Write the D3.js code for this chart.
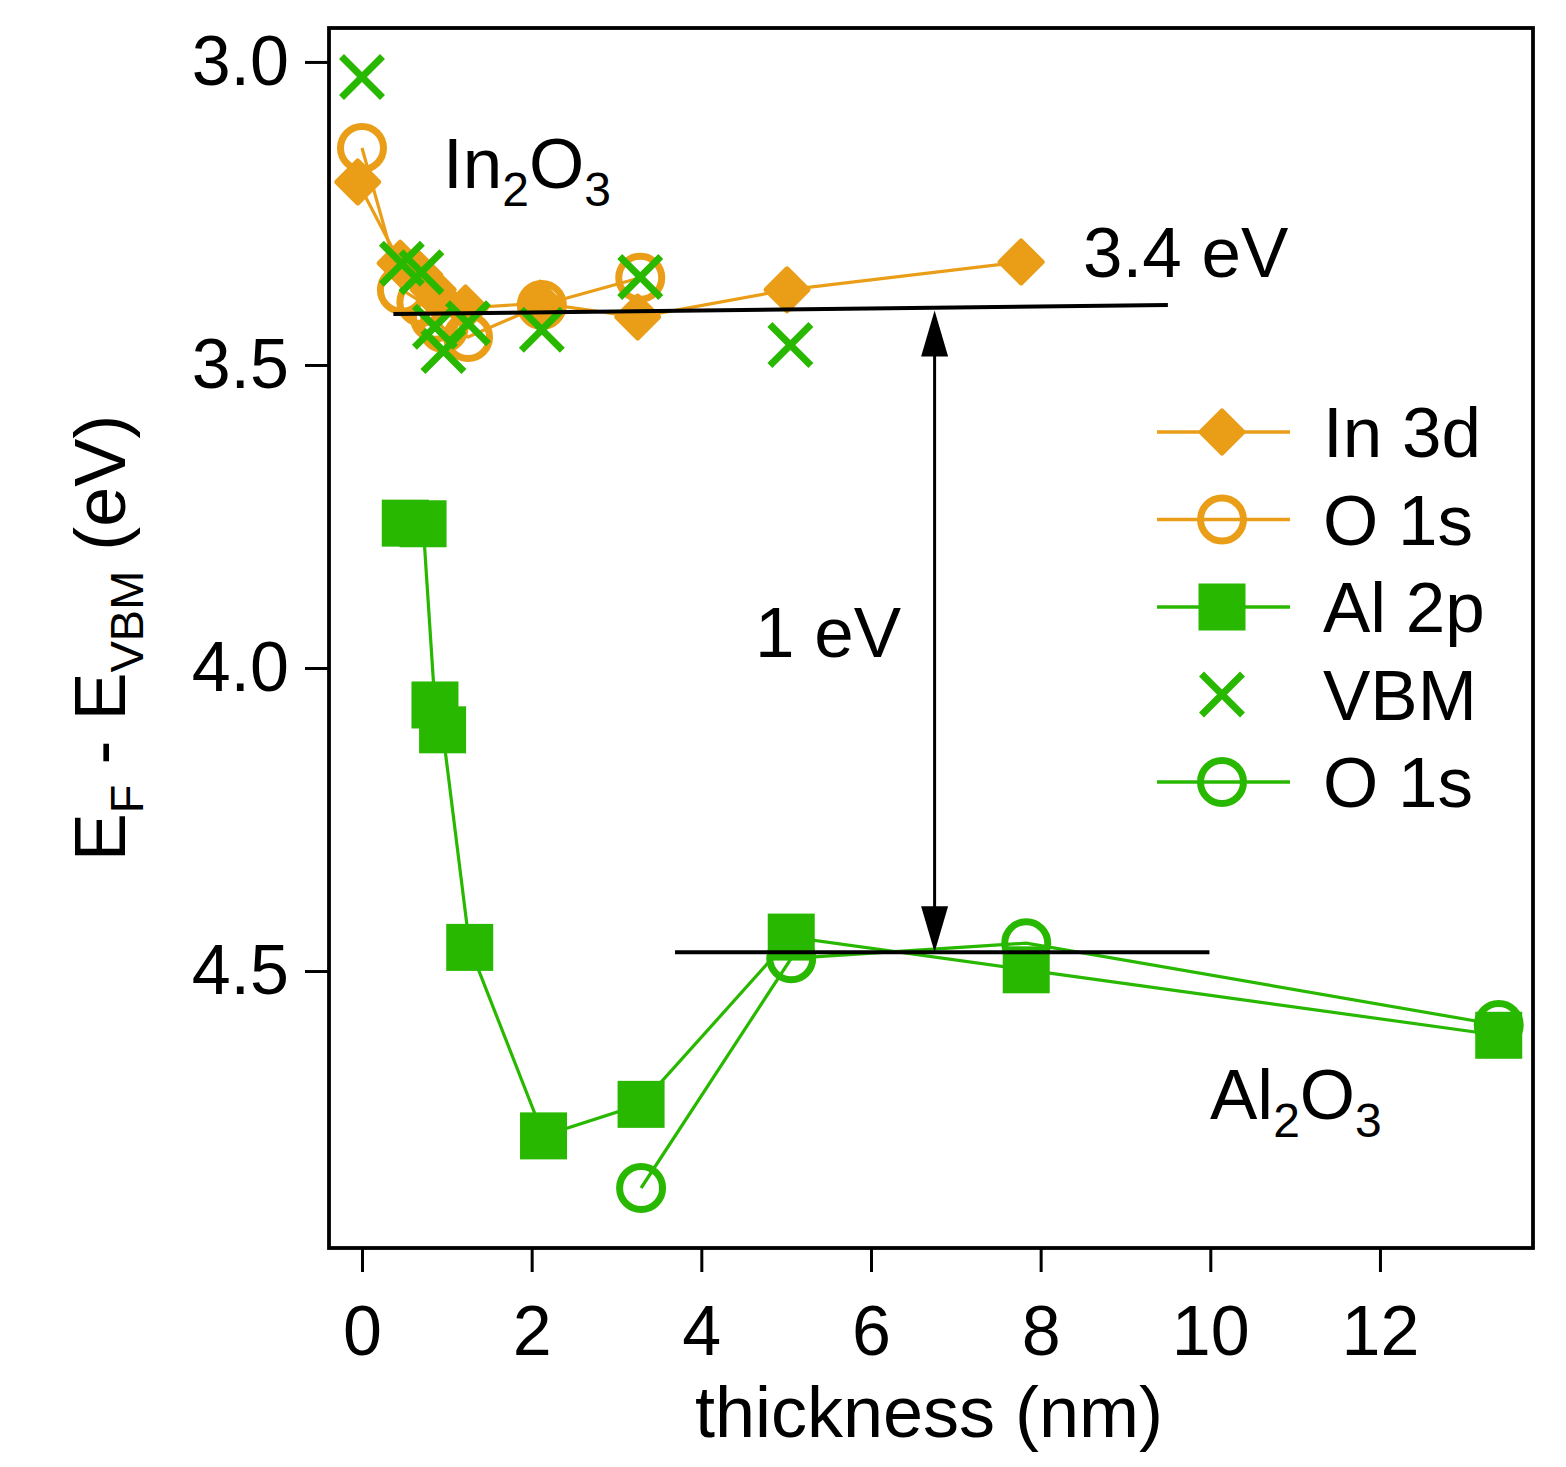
<!DOCTYPE html>
<html>
<head>
<meta charset="utf-8">
<script src="https://cdn.jsdelivr.net/npm/d3@7"></script>
<style>
  body { margin: 0; background: #fff; }
  text { font-family: "Liberation Sans", Arial, sans-serif; fill: #000; }
</style>
</head>
<body>
<div id="chart"></div>
<script>
// thickness (nm) and E_F - E_VBM (eV)
var thickIn3d = [-0.05, 0.45, 0.68, 0.84, 0.92, 1.22, 2.10, 3.25, 5.01, 7.77];
var in3d      = [3.198, 3.332, 3.351, 3.376, 3.393, 3.406, 3.398, 3.421, 3.376, 3.330];
var thickO1sIn = [0, 0.47, 0.70, 0.86, 0.96, 1.25, 2.12, 3.28];
var o1sIn      = [3.142, 3.376, 3.396, 3.422, 3.439, 3.454, 3.401, 3.356];
var thickAl2p = [0.51, 0.72, 0.86, 0.95, 1.27, 2.14, 3.29, 5.06, 7.83, 13.40];
var al2p      = [3.761, 3.762, 4.061, 4.102, 4.461, 4.772, 4.720, 4.444, 4.498, 4.606];
var thickVbm = [0, 0.47, 0.70, 0.86, 0.96, 1.25, 2.12, 3.28, 5.05];
var vbm      = [3.025, 3.333, 3.347, 3.437, 3.477, 3.431, 3.442, 3.355, 3.467];
var thickO1sAl = [3.29, 5.06, 7.83, 13.40];
var o1sAl      = [4.858, 4.479, 4.454, 4.589];

var xTicks = [0, 2, 4, 6, 8, 10, 12];
var yTicks = [3.0, 3.5, 4.0, 4.5];

// guide lines: In2O3 level, Al2O3 level, 1 eV arrow
var in2o3Level = [[0.37, 3.416], [9.50, 3.401]];
var al2o3Level = [[3.69, 4.469], [9.99, 4.469]];
var arrowX = 6.75;

var orange = '#EA9D16';
var green = '#29B800';

var width = 1566, height = 1467;
var frame = { left: 329, right: 1533, top: 28, bottom: 1248 };

var x = d3.scaleLinear()
    .domain([-0.389, 13.804])
    .range([frame.left, frame.right]);
var y = d3.scaleLinear()
    .domain([2.944, 4.957])
    .range([frame.top, frame.bottom]);

var svg = d3.select('#chart')
    .append('svg')
    .attr('width', width)
    .attr('height', height);

svg.append('rect').attr('width', width).attr('height', height).attr('fill', '#fff');

// axes
var yAxis = g => g
    .attr('transform', `translate(${frame.left},0)`)
    .call(d3.axisLeft(y).tickValues(yTicks).tickFormat(d3.format('.1f')).tickSize(24).tickPadding(16))
    .call(g => g.select('.domain').remove());
var xAxis = g => g
    .attr('transform', `translate(0,${frame.bottom})`)
    .call(d3.axisBottom(x).tickValues(xTicks).tickFormat(d3.format('d')).tickSize(24).tickPadding(33))
    .call(g => g.select('.domain').remove());

svg.append('g').call(yAxis);
svg.append('g').call(xAxis);
svg.selectAll('.tick line').attr('stroke', '#000').attr('stroke-width', 3);
svg.selectAll('.tick text')
    .attr('font-size', 70)
    .attr('font-family', '"Liberation Sans", Arial, sans-serif')
    .attr('fill', '#000');

// frame
svg.append('rect')
    .attr('x', frame.left).attr('y', frame.top)
    .attr('width', frame.right - frame.left)
    .attr('height', frame.bottom - frame.top)
    .attr('fill', 'none').attr('stroke', '#000').attr('stroke-width', 3.8);

// axis titles
svg.append('text')
    .attr('x', 929).attr('y', 1437)
    .attr('text-anchor', 'middle')
    .attr('font-size', 72)
    .text('thickness (nm)');

var ylab = svg.append('text')
    .attr('transform', 'translate(125,638) rotate(-90)')
    .attr('text-anchor', 'middle')
    .attr('font-size', 72);
ylab.append('tspan').text('E');
ylab.append('tspan').attr('font-size', 47).attr('dy', 18).text('F');
ylab.append('tspan').attr('dy', -18).text(' - E');
ylab.append('tspan').attr('font-size', 47).attr('dy', 18).text('VBM');
ylab.append('tspan').attr('dy', -18).text(' (eV)');

function zip(xs, ys) { return xs.map((d, i) => [d, ys[i]]); }

var line = d3.line().x(d => x(d[0])).y(d => y(d[1]));

function drawLine(pts, color) {
    svg.append('path')
        .datum(pts)
        .attr('d', line)
        .attr('fill', 'none')
        .attr('stroke', color)
        .attr('stroke-width', 3.2);
}

function diamond(g, color) {
    g.append('path').attr('d', 'M0,-21L21,0L0,21L-21,0Z')
        .attr('fill', color).attr('stroke', color)
        .attr('stroke-width', 5).attr('stroke-linejoin', 'round');
}
function ring(g, color) {
    g.append('circle').attr('r', 21.5)
        .attr('fill', 'none').attr('stroke', color).attr('stroke-width', 7);
}
function square(g, color) {
    g.append('rect').attr('x', -23.5).attr('y', -23.5)
        .attr('width', 47).attr('height', 47).attr('fill', color);
}
function cross(g, color) {
    g.append('path').attr('d', 'M-20.5,-20.5L20.5,20.5M-20.5,20.5L20.5,-20.5')
        .attr('stroke', color).attr('stroke-width', 7);
}

function drawMarks(pts, color, shape) {
    svg.append('g').selectAll('g').data(pts).enter().append('g')
        .attr('transform', d => `translate(${x(d[0])},${y(d[1])})`)
        .each(function () { shape(d3.select(this), color); });
}

var sIn3d = zip(thickIn3d, in3d);
var sO1sIn = zip(thickO1sIn, o1sIn);
var sAl2p = zip(thickAl2p, al2p);
var sVbm = zip(thickVbm, vbm);
var sO1sAl = zip(thickO1sAl, o1sAl);

drawLine(sIn3d, orange);
drawMarks(sIn3d, orange, diamond);
drawLine(sO1sIn, orange);
drawMarks(sO1sIn, orange, ring);
drawLine(sAl2p, green);
drawMarks(sAl2p, green, square);
drawLine(sO1sAl, green);
drawMarks(sO1sAl, green, ring);
drawMarks(sVbm, green, cross);

// level lines and arrow
[in2o3Level, al2o3Level].forEach(pts => {
    svg.append('path').datum(pts).attr('d', line)
        .attr('fill', 'none').attr('stroke', '#000').attr('stroke-width', 4);
});

var yTop = y(d3.mean(in2o3Level, d => d[1])) + 1;
var yBot = y(al2o3Level[0][1]);
var ax = x(arrowX);
svg.append('line')
    .attr('x1', ax).attr('x2', ax)
    .attr('y1', yTop + 40).attr('y2', yBot - 40)
    .attr('stroke', '#000').attr('stroke-width', 3);
svg.append('path')
    .attr('d', `M${ax},${yTop}L${ax + 13.5},${yTop + 46}L${ax - 13.5},${yTop + 46}Z`)
    .attr('fill', '#000');
svg.append('path')
    .attr('d', `M${ax},${yBot}L${ax + 13.5},${yBot - 46}L${ax - 13.5},${yBot - 46}Z`)
    .attr('fill', '#000');

// annotations
function chem(tx, ty, a, b) {
    var t = svg.append('text').attr('x', tx).attr('y', ty).attr('font-size', 71);
    t.append('tspan').text(a);
    t.append('tspan').attr('font-size', 48).attr('dy', 18).text('2');
    t.append('tspan').attr('dy', -18).text(b);
    t.append('tspan').attr('font-size', 48).attr('dy', 18).text('3');
}
chem(443, 188, 'In', 'O');
chem(1210, 1119, 'Al', 'O');

svg.append('text').attr('x', 1083).attr('y', 277).attr('font-size', 71).text('3.4 eV');
svg.append('text').attr('x', 755).attr('y', 657).attr('font-size', 71).text('1 eV');

// legend
var legendItems = [
    { label: 'In 3d', color: orange, shape: diamond, line: true },
    { label: 'O 1s', color: orange, shape: ring, line: true },
    { label: 'Al 2p', color: green, shape: square, line: true },
    { label: 'VBM', color: green, shape: cross, line: false },
    { label: 'O 1s', color: green, shape: ring, line: true }
];
var legend = svg.append('g');
legendItems.forEach((d, i) => {
    var cy = 432 + i * 87.5;
    if (d.line) {
        legend.append('line')
            .attr('x1', 1157).attr('x2', 1290).attr('y1', cy).attr('y2', cy)
            .attr('stroke', d.color).attr('stroke-width', 3.5);
    }
    var g = legend.append('g').attr('transform', `translate(1222,${cy})`);
    d.shape(g, d.color);
    legend.append('text').attr('x', 1323).attr('y', cy + 25)
        .attr('font-size', 71).text(d.label);
});
</script>
</body>
</html>
